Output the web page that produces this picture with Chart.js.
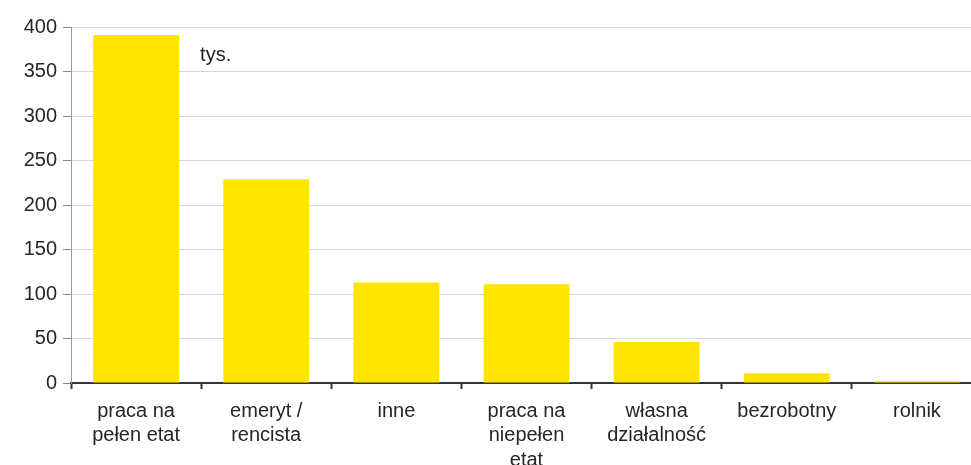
<!DOCTYPE html>
<html>
<head>
<meta charset="utf-8">
<script src="https://cdn.jsdelivr.net/npm/chart.js@4/dist/chart.umd.min.js"></script>
<style>
  html, body { margin: 0; padding: 0; background: #fff; overflow: hidden; }
  #wrap { width: 982px; height: 465px; position: relative; }
</style>
</head>
<body>
<div id="wrap"><canvas id="barChart"></canvas></div>
<script>
// categories and values (thousands)
var categories = [
    ["praca na", "pełen etat"],
    ["emeryt /", "rencista"],
    "inne",
    ["praca na", "niepełen", "etat"],
    ["własna", "działalność"],
    "bezrobotny",
    "rolnik"
];
var values = [391, 229, 113, 111, 46, 11, 2];
var yTicks = [0, 50, 100, 150, 200, 250, 300, 350, 400];
var unitLabel = "tys.";

// draws the "tys." note next to the first bar
var unitPlugin = {
    id: 'unitNote',
    afterDatasetsDraw: function (chart) {
        var ctx = chart.ctx;
        var x = chart.scales.x.getPixelForValue(0) + 64;
        var y = chart.scales.y.getPixelForValue(368);
        ctx.save();
        ctx.font = '20px "Liberation Sans", Arial, sans-serif';
        ctx.fillStyle = '#222';
        ctx.textBaseline = 'middle';
        ctx.fillText(unitLabel, x, y);
        ctx.restore();
    }
};

var data = {
    labels: categories,
    datasets: [{
        data: values,
        backgroundColor: 'rgb(255, 229, 0)',
        borderWidth: 0,
        barPercentage: 0.66,
        categoryPercentage: 1.0
    }]
};

var config = {
    type: 'bar',
    data: data,
    options: {
        responsive: true,
        maintainAspectRatio: false,
        animation: false,
        layout: { padding: { top: 27, right: 0, left: 0, bottom: 0 } },
        plugins: {
            legend: { display: false },
            tooltip: { enabled: false }
        },
        scales: {
            x: {
                afterFit: function (scale) { scale.height = 82; },
                grid: {
                    display: true,
                    offset: true,
                    drawOnChartArea: false,
                    drawTicks: true,
                    tickLength: 6,
                    tickWidth: 2,
                    tickColor: '#333'
                },
                border: { display: true, color: '#333', width: 2 },
                ticks: {
                    color: '#262626',
                    padding: 10,
                    maxRotation: 0,
                    autoSkip: false,
                    font: { family: '"Liberation Sans", Arial, sans-serif', size: 20, lineHeight: 1.22 }
                }
            },
            y: {
                min: 0,
                max: 400,
                afterFit: function (scale) { scale.width = 71; },
                afterBuildTicks: function (scale) {
                    scale.ticks = yTicks.map(function (v) { return { value: v }; });
                },
                grid: {
                    color: '#d6d6d6',
                    lineWidth: 1,
                    drawTicks: true,
                    tickLength: 8,
                    tickColor: '#888'
                },
                border: { display: true, color: '#999', width: 1 },
                ticks: {
                    color: '#262626',
                    padding: 6,
                    font: { family: '"Liberation Sans", Arial, sans-serif', size: 20 }
                }
            }
        }
    },
    plugins: [unitPlugin]
};

var barChart = new Chart(document.getElementById('barChart'), config);
</script>
</body>
</html>
